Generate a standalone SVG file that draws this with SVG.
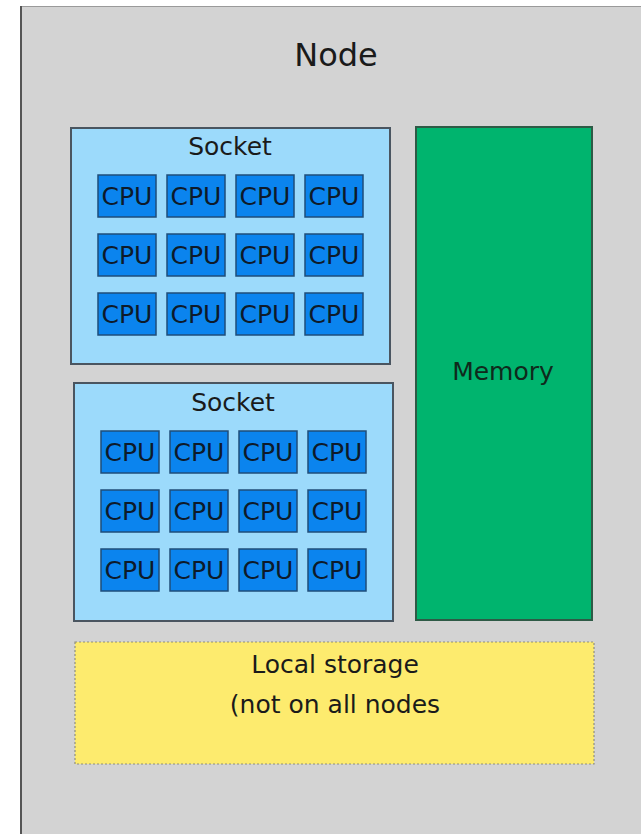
<svg xmlns="http://www.w3.org/2000/svg" width="641" height="834" viewBox="0 0 641 834">
  <style>
    .lbl { font-family: "DejaVu Sans", Verdana, sans-serif; fill: #1a1a1a; text-anchor: middle; }
    .socket { fill: #9cdafb; stroke: #4a5560; stroke-width: 2; }
    .cpu rect { fill: #0b84ee; stroke: #1f4d7a; stroke-width: 1.5; }
    .cpu text { font-family: "DejaVu Sans", Verdana, sans-serif; font-size: 25px; fill: #0d1a2a; text-anchor: middle; }
  </style>
  <defs>
    <g id="cpu" class="cpu">
      <rect x="0" y="0" width="58" height="42"/>
      <text x="29" y="30">CPU</text>
    </g>
    <g id="cpu-grid">
      <use href="#cpu" x="0" y="0"/><use href="#cpu" x="69" y="0"/><use href="#cpu" x="138" y="0"/><use href="#cpu" x="207" y="0"/>
      <use href="#cpu" x="0" y="59"/><use href="#cpu" x="69" y="59"/><use href="#cpu" x="138" y="59"/><use href="#cpu" x="207" y="59"/>
      <use href="#cpu" x="0" y="118"/><use href="#cpu" x="69" y="118"/><use href="#cpu" x="138" y="118"/><use href="#cpu" x="207" y="118"/>
    </g>
  </defs>

  <rect x="0" y="0" width="641" height="834" fill="#ffffff"/>

  <!-- Node enclosure -->
  <g id="node">
    <rect x="21" y="6" width="640" height="840" fill="#d3d3d3"/>
    <line x1="21" y1="6.5" x2="641" y2="6.5" stroke="#9a9a9a" stroke-width="1"/>
    <line x1="21" y1="6" x2="21" y2="834" stroke="#555555" stroke-width="2"/>
    <text class="lbl" x="336" y="66" font-size="32">Node</text>
  </g>

  <!-- Socket 1 -->
  <g id="socket1">
    <rect class="socket" x="71" y="128" width="319" height="236"/>
    <text class="lbl" x="230" y="155" font-size="25">Socket</text>
    <use href="#cpu-grid" x="98" y="175"/>
  </g>

  <!-- Socket 2 -->
  <g id="socket2">
    <rect class="socket" x="74" y="383" width="319" height="238"/>
    <text class="lbl" x="233" y="411" font-size="25">Socket</text>
    <use href="#cpu-grid" x="101" y="431"/>
  </g>

  <!-- Memory -->
  <g id="memory">
    <rect x="416" y="127" width="176" height="493" fill="#00b46e" stroke="#2e5a46" stroke-width="2"/>
    <text class="lbl" x="503" y="380" font-size="25" style="fill:#0f2a1c">Memory</text>
  </g>

  <!-- Local storage -->
  <g id="local-storage">
    <rect x="75" y="642" width="519" height="122" fill="#fdeb6e" stroke="#8f8f7a" stroke-width="1.2" stroke-dasharray="2 2"/>
    <text class="lbl" x="335" y="673" font-size="25">Local storage</text>
    <text class="lbl" x="335" y="713" font-size="25">(not on all nodes</text>
  </g>

  <g id="connectors"/>
</svg>
